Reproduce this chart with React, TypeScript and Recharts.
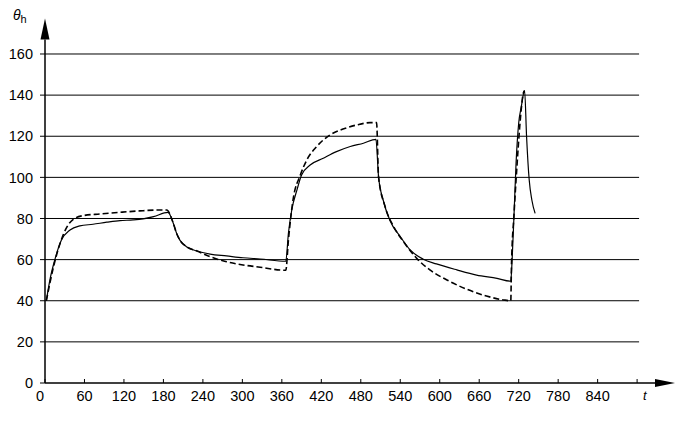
import React from 'react';
import { LineChart, Line, XAxis, YAxis, ReferenceLine, ReferenceDot } from 'recharts';

// measured curve (solid)
const solidTime = [2, 8, 15, 25, 38, 53, 73, 94, 114, 134, 149, 165, 187, 195, 200, 205, 215, 231, 251, 276, 301, 327, 366, 370, 375, 383, 390, 403, 423, 443, 464, 484, 503, 507, 514, 524, 540, 555, 575, 595, 626, 656, 687, 708, 710, 713, 716, 720, 724, 729, 732, 736, 740, 745];
const solidTemp = [40, 51, 60, 69.5, 74.4, 76.4, 77.2, 78.2, 79, 79.3, 79.8, 80.9, 83, 77.7, 72.8, 69.5, 66.3, 64.2, 62.7, 61.8, 60.9, 60.3, 59.2, 72.8, 84, 93.9, 101.2, 106, 109.3, 112.5, 115, 116.6, 118.5, 100.3, 89, 79.3, 71.2, 64.7, 60.2, 57.9, 55, 52.5, 50.9, 49.5, 59.8, 82.5, 106.8, 126.3, 134.4, 142.2, 119.8, 98.7, 89, 82.5];

// calculated curve (dashed)
const dashedTime = [2, 13, 23, 33, 43, 58, 84, 114, 144, 170, 185, 195, 200, 205, 215, 231, 251, 276, 301, 327, 366, 370, 377, 388, 398, 413, 433, 453, 474, 494, 504, 507, 517, 530, 545, 565, 585, 611, 641, 671, 697, 708, 709, 713, 717, 722, 727, 729];
const dashedTemp = [40, 56.6, 68, 75.7, 79.6, 81.4, 82.2, 83, 83.7, 84.1, 84.1, 77.7, 72.8, 69.5, 66.3, 64.2, 61.4, 59, 57.4, 56.3, 54.8, 69.5, 89, 101, 108.5, 115, 120.6, 123.5, 125.5, 126.6, 126.6, 100.3, 85.7, 76, 68.7, 60.6, 55, 50.1, 45.6, 42.3, 40.4, 40, 56.6, 82.5, 103.6, 126.3, 140.9, 142.2];

const xTicks = [0, 60, 120, 180, 240, 300, 360, 420, 480, 540, 600, 660, 720, 780, 840, 900];
const yTicks = [0, 20, 40, 60, 80, 100, 120, 140, 160];
const gridLevels = [20, 40, 60, 80, 100, 120, 140, 160];

const solidData = solidTime.map((t, i) => ({ t, v: solidTemp[i] }));
const dashedData = dashedTime.map((t, i) => ({ t, v: dashedTemp[i] }));

const FONT = '"Liberation Sans", Arial, sans-serif';

const TimeTick = (props: any) => {
  const { x, y, payload } = props;
  const v = payload.value;
  return (
    <g>
      <line x1={x} x2={x} y1={y - 12} y2={y - 8} stroke="#000" />
      {v === 900 ? (
        <text x={x + 6} y={y + 9} fontSize={13} fontStyle="italic" fontFamily={FONT} fill="#000">t</text>
      ) : (
        <text x={v === 0 ? x - 5 : x} y={y + 10} textAnchor="middle" fontSize={14.5} fontFamily={FONT} fill="#000">{v}</text>
      )}
    </g>
  );
};

const ThetaLabel = (props: any) => {
  const vb = props.viewBox || { x: 0, y: 40 };
  return (
    <text x={vb.x + 13} y={vb.y - 20} fontFamily={FONT} fill="#000">
      <tspan fontSize={14} fontStyle="italic">θ</tspan>
      <tspan fontSize={11} dy={3}>h</tspan>
    </text>
  );
};

const UpArrow = (props: any) => {
  const { cx, cy } = props;
  return <polygon points={`${cx - 4.5},${cy} ${cx + 4.5},${cy} ${cx},${cy - 21}`} fill="#000" />;
};

const RightArrow = (props: any) => {
  const { cx, cy } = props;
  return <polygon points={`${cx - 15},${cy - 4} ${cx - 15},${cy + 4} ${cx + 5},${cy}`} fill="#000" />;
};

export default function App() {
  return (
    <div style={{ position: 'absolute', left: 0, top: 0, width: 695, height: 424, background: '#fff' }}>
      <LineChart width={695} height={424} margin={{ top: 39.6, right: 25, bottom: 11, left: 0 }}>
        <XAxis
          dataKey="t"
          type="number"
          domain={[0, 950]}
          ticks={xTicks}
          allowDataOverflow
          height={30}
          tickSize={0}
          tickMargin={8}
          tick={<TimeTick />}
          axisLine={{ stroke: '#000', strokeWidth: 1.5 }}
        />
        <YAxis
          type="number"
          domain={[0, 167]}
          ticks={yTicks}
          allowDataOverflow
          width={45}
          tickSize={5}
          tickMargin={7}
          tick={{ fill: '#000', fontSize: 14.5, fontFamily: FONT }}
          tickLine={{ stroke: '#000' }}
          axisLine={{ stroke: '#000', strokeWidth: 1.5 }}
          label={{ content: ThetaLabel }}
        />
        {gridLevels.map((g) => (
          <ReferenceLine
            key={g}
            segment={[{ x: 0, y: g }, { x: 903, y: g }]}
            stroke="#000"
            strokeWidth={1}
          />
        ))}
        <ReferenceDot x={0} y={167} ifOverflow="visible" shape={<UpArrow />} />
        <ReferenceDot x={950} y={0} ifOverflow="visible" shape={<RightArrow />} />
        <Line
          data={dashedData}
          dataKey="v"
          type="monotone"
          stroke="#000"
          strokeWidth={1.6}
          strokeDasharray="6 3"
          dot={false}
          isAnimationActive={false}
        />
        <Line
          data={solidData}
          dataKey="v"
          type="monotone"
          stroke="#000"
          strokeWidth={1.2}
          dot={false}
          isAnimationActive={false}
        />
      </LineChart>
    </div>
  );
}
